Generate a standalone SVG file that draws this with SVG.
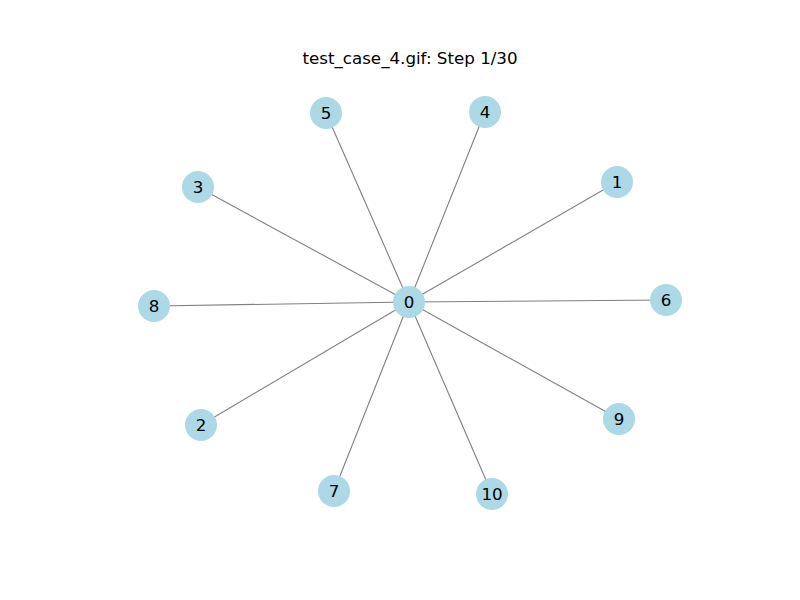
<svg xmlns="http://www.w3.org/2000/svg" width="800" height="600" viewBox="0 0 800 600">
<style>
.e{stroke:#808080;stroke-width:1.1}
.n circle{fill:#add8e6}
text{font-family:"DejaVu Sans",sans-serif;font-size:16.7px;fill:#000;text-anchor:middle;dominant-baseline:central}
</style>
<rect width="800" height="600" fill="#fff"/>
<text x="410" y="58">test_case_4.gif: Step 1/30</text>
<g id="edges">
<line class="e" x1="409" y1="302" x2="617" y2="182"/>
<line class="e" x1="409" y1="302" x2="201" y2="425"/>
<line class="e" x1="409" y1="302" x2="198" y2="187"/>
<line class="e" x1="409" y1="302" x2="485" y2="112"/>
<line class="e" x1="409" y1="302" x2="326" y2="113"/>
<line class="e" x1="409" y1="302" x2="666" y2="300"/>
<line class="e" x1="409" y1="302" x2="334" y2="491"/>
<line class="e" x1="409" y1="302" x2="154" y2="306"/>
<line class="e" x1="409" y1="302" x2="619" y2="419"/>
<line class="e" x1="409" y1="302" x2="492" y2="494"/>
</g>
<g id="n0" class="n"><circle cx="409" cy="302" r="16"/><text x="409" y="302">0</text></g>
<g id="n1" class="n"><circle cx="617" cy="182" r="16"/><text x="617" y="182">1</text></g>
<g id="n2" class="n"><circle cx="201" cy="425" r="16"/><text x="201" y="425">2</text></g>
<g id="n3" class="n"><circle cx="198" cy="187" r="16"/><text x="198" y="187">3</text></g>
<g id="n4" class="n"><circle cx="485" cy="112" r="16"/><text x="485" y="112">4</text></g>
<g id="n5" class="n"><circle cx="326" cy="113" r="16"/><text x="326" y="113">5</text></g>
<g id="n6" class="n"><circle cx="666" cy="300" r="16"/><text x="666" y="300">6</text></g>
<g id="n7" class="n"><circle cx="334" cy="491" r="16"/><text x="334" y="491">7</text></g>
<g id="n8" class="n"><circle cx="154" cy="306" r="16"/><text x="154" y="306">8</text></g>
<g id="n9" class="n"><circle cx="619" cy="419" r="16"/><text x="619" y="419">9</text></g>
<g id="n10" class="n"><circle cx="492" cy="494" r="16"/><text x="492" y="494">10</text></g>
</svg>
